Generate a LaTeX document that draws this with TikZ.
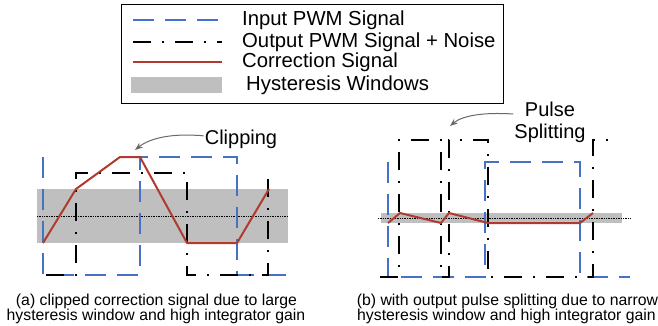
\documentclass[tikz,border=0pt]{standalone}
\usepackage{fontspec}
\setmainfont{Liberation Sans}
\usetikzlibrary{arrows.meta}
\definecolor{pwmblue}{RGB}{68,114,196}
\definecolor{corrred}{RGB}{176,58,46}
\definecolor{hystgray}{RGB}{191,191,191}
\definecolor{arrgray}{RGB}{105,105,105}
\begin{document}
\begin{tikzpicture}[x=1pt,y=-1pt,
 inputsig/.style={pwmblue,line width=1.2pt,dash pattern=on 21pt off 11pt},
 outputsig/.style={black,line width=2.4pt,dash pattern=on 18pt off 11pt on 2pt off 11pt},
 corrsig/.style={corrred,line width=2pt,line join=round},
 hystwin/.style={fill=hystgray,draw=none},
 midline/.style={black,line width=0.7pt,densely dotted},
 legtext/.style={anchor=west,inner sep=0pt,font=\fontsize{20.3}{22}\selectfont},
 lbl/.style={inner sep=1pt,font=\fontsize{20}{22}\selectfont,align=center},
 captext/.style={anchor=base,inner sep=0pt,font=\fontsize{15.8}{15.7}\selectfont},
 callout/.style={arrgray,line width=1pt,-{Stealth[length=8pt,width=6pt]}}]
\useasboundingbox (0,0) rectangle (658,325);

% ---------- legend ----------
\node[draw,line width=1pt,minimum width=382pt,minimum height=99pt,inner sep=0pt] (legend) at (312,53.5) {};
\draw[inputsig] (133,20) -- (222,20);
\draw[outputsig] (133,42) -- (222,42);
\draw[corrsig] (133,62) -- (222,62);
\fill[hystwin] (131,77) rectangle (222,93);
\node[legtext] (leg1) at (242,20) {Input PWM Signal};
\node[legtext] (leg2) at (242,42) {Output PWM Signal + Noise};
\node[legtext] (leg3) at (242,62) {Correction Signal};
\node[legtext] (leg4) at (246,85) {Hysteresis Windows};

% ---------- panel (a) ----------
\fill[hystwin] (37,189) rectangle (288,243);
\draw[midline] (37,216) -- (288,216);
\draw[inputsig] (43,157) -- (43,275) -- (140,275) -- (140,157) -- (237,157) -- (237,275) -- (287,275);
\draw[outputsig] (46,275) -- (76,275) -- (76,173) -- (187,173) -- (187,275) -- (268,275) -- (268,173);
\draw[corrsig] (43,243) -- (76,189) -- (120,157) -- (140,157) -- (187,243) -- (237,243) -- (269,189);
\node[lbl,anchor=base] (clip) at (241,144) {Clipping};
\coordinate (cliptip) at (135,150);
\draw[callout] ([yshift=3pt]clip.west) .. controls (172,133) and (150,138) .. (cliptip);
\node[captext] (capa1) at (156.5,305) {(a) clipped correction signal due to large};
\node[captext] (capa2) at (156,320.7) {hysteresis window and high integrator gain};

% ---------- panel (b) ----------
\fill[hystwin] (381,213) rectangle (622,223);
\draw[midline] (378,218) -- (630,218);
\draw[inputsig] (388,162) -- (388,277) -- (485,277) -- (485,162) -- (580,162) -- (580,277) -- (630,277);
\draw[outputsig] (380,277) -- (399,277) -- (399,140) -- (441,140) -- (441,277) -- (449,277) -- (449,140) -- (488,140) -- (488,277) -- (593,277) -- (593,140) -- (615,140);
\draw[corrsig] (388,223) -- (400,213) -- (441,223) -- (449,213) -- (488,223) -- (580,223) -- (593,213);
\node[lbl] (pulse) at (550,122) {Pulse\\Splitting};
\coordinate (pulsetip) at (450,126);
\draw[callout] ([yshift=8pt]pulse.west) .. controls (482,112) and (462,116) .. (pulsetip);
\node[captext] (capb1) at (507.5,305) {(b) with output pulse splitting due to narrow};
\node[captext] (capb2) at (506.5,320.7) {hysteresis window and high integrator gain};
\end{tikzpicture}
\end{document}
